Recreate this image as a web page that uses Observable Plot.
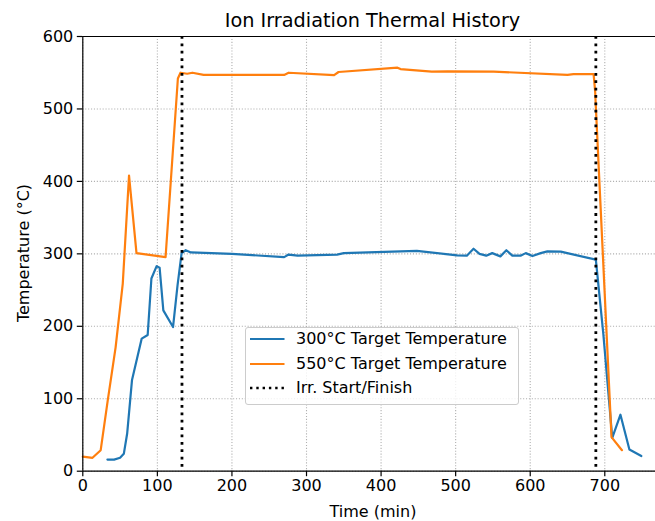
<!DOCTYPE html>
<html>
<head>
<meta charset="utf-8">
<script src="https://cdn.jsdelivr.net/npm/d3@7"></script>
<script src="https://cdn.jsdelivr.net/npm/@observablehq/plot@0.6"></script>
<style>
  html, body { margin: 0; padding: 0; background: white; }
  #wrap { position: relative; width: 655px; height: 521px; overflow: hidden; font-family: "DejaVu Sans", sans-serif; color: black; }
  #title { position: absolute; top: 8.5px; left: 172.5px; width: 400px; text-align: center; font-size: 19.3px; line-height: 23px; white-space: nowrap; }
  #xlabel { position: absolute; top: 502px; left: 273px; width: 200px; text-align: center; font-size: 16px; line-height: 19px; }
  #ylabel { position: absolute; left: 23px; top: 253px; transform: translate(-50%, -50%) rotate(-90deg); white-space: nowrap; font-size: 16px; line-height: 19px; }
  #legend { position: absolute; left: 245px; top: 327px; width: 272px; height: 76px; border: 1px solid #cccccc; border-radius: 3px; background: rgba(255,255,255,0.8); font-size: 16px; }
  #legend .row { position: absolute; left: 0; height: 20px; width: 100%; }
  #legend svg { position: absolute; left: 4px; top: 0; }
  #legend span { position: absolute; left: 50px; top: 0; line-height: 20px; white-space: nowrap; }
</style>
</head>
<body>
<div id="wrap">
  <div id="chart"></div>
  <div id="title">Ion Irradiation Thermal History</div>
  <div id="xlabel">Time (min)</div>
  <div id="ylabel">Temperature (°C)</div>
  <div id="legend"></div>
</div>
<script>
// 300°C target series
const time300 = [33, 42, 50, 55, 59.5, 66, 79, 87, 92, 99, 103, 108, 121, 127, 132.5, 138, 145, 200, 270, 276, 288, 341, 350, 448, 502, 515, 524, 532, 541, 549, 560, 568, 576, 587, 594, 603, 614, 623, 641, 688, 698, 710, 721, 733, 749];
const temp300 = [16, 16, 18.5, 24, 52, 126, 183, 188, 266, 283, 281, 222, 199, 256, 301, 305, 302, 300, 295.5, 299, 297.5, 299, 301, 304, 298, 297.5, 307, 300, 297.5, 301, 296.5, 305, 297.5, 297.5, 301, 297, 301, 303.5, 303, 292, 190, 46, 78, 30, 21];

// 550°C target series
const time550 = [0, 13, 24, 33.5, 44, 53.6, 62, 72, 111, 127.5, 131, 140, 147, 162, 270, 276, 337, 343, 422, 426, 468, 489, 551, 650, 658, 685, 687, 709, 723];
const temp550 = [20, 18.5, 29, 98, 171, 259, 408, 301, 295.5, 542, 550, 548.6, 550, 547, 547, 550, 546.7, 551, 557, 555, 551.5, 552, 551.5, 547, 548, 548, 525, 47, 29];

// Irradiation start / finish
const irrTimes = [133, 688];

const xTicks = [0, 100, 200, 300, 400, 500, 600, 700];
const yTicks = [0, 100, 200, 300, 400, 500, 600];

const seriesLabels = ["300°C Target Temperature", "550°C Target Temperature", "Irr. Start/Finish"];
const colors = ["#1f77b4", "#ff7f0e", "black"];

const d300 = time300.map((t, i) => ({t, v: temp300[i]}));
const d550 = time550.map((t, i) => ({t, v: temp550[i]}));

const chart = Plot.plot({
  width: 655,
  height: 521,
  marginTop: 36,
  marginBottom: 50.3,
  marginLeft: 82.3,
  marginRight: 0,
  style: {fontFamily: "DejaVu Sans", fontSize: "16px", color: "black", background: "white", overflow: "visible"},
  x: {domain: [0, 768], label: null},
  y: {domain: [0, 600], label: null},
  marks: [
    Plot.gridX(xTicks, {stroke: "#b0b0b0", strokeOpacity: 1, strokeWidth: 1.1, strokeDasharray: "1.1,1.8"}),
    Plot.gridY(yTicks, {stroke: "#b0b0b0", strokeOpacity: 1, strokeWidth: 1.1, strokeDasharray: "1.1,1.8"}),
    Plot.line(d300, {x: "t", y: "v", stroke: colors[0], strokeWidth: 2.2}),
    Plot.line(d550, {x: "t", y: "v", stroke: colors[1], strokeWidth: 2.2}),
    Plot.ruleX(irrTimes, {stroke: "black", strokeWidth: 2.78, strokeDasharray: "2.78,4.6"}),
    Plot.ruleX([0], {stroke: "black", strokeWidth: 1.2}),
    Plot.ruleY([0, 600], {stroke: "black", strokeWidth: 1.2}),
    Plot.axisX(xTicks, {tickSize: 5.5, tickPadding: 3, strokeWidth: 1.2, label: null}),
    Plot.axisY(yTicks, {tickSize: 5.5, tickPadding: 4, strokeWidth: 1.2, label: null})
  ]
});
document.getElementById("chart").appendChild(chart);

// Legend
const legend = document.getElementById("legend");
const rowTops = [1.3, 26, 49.7];
seriesLabels.forEach((lab, i) => {
  const row = document.createElement("div");
  row.className = "row";
  row.style.top = rowTops[i] + "px";
  const dash = i === 2 ? ' stroke-dasharray="2.4,3.9"' : '';
  const sw = i === 2 ? 2.4 : 2.2;
  row.innerHTML = `<svg width="36" height="20"><line x1="0" x2="34.5" y1="10" y2="10" stroke="${colors[i]}" stroke-width="${sw}"${dash}/></svg><span>${lab}</span>`;
  legend.appendChild(row);
});
</script>
</body>
</html>
